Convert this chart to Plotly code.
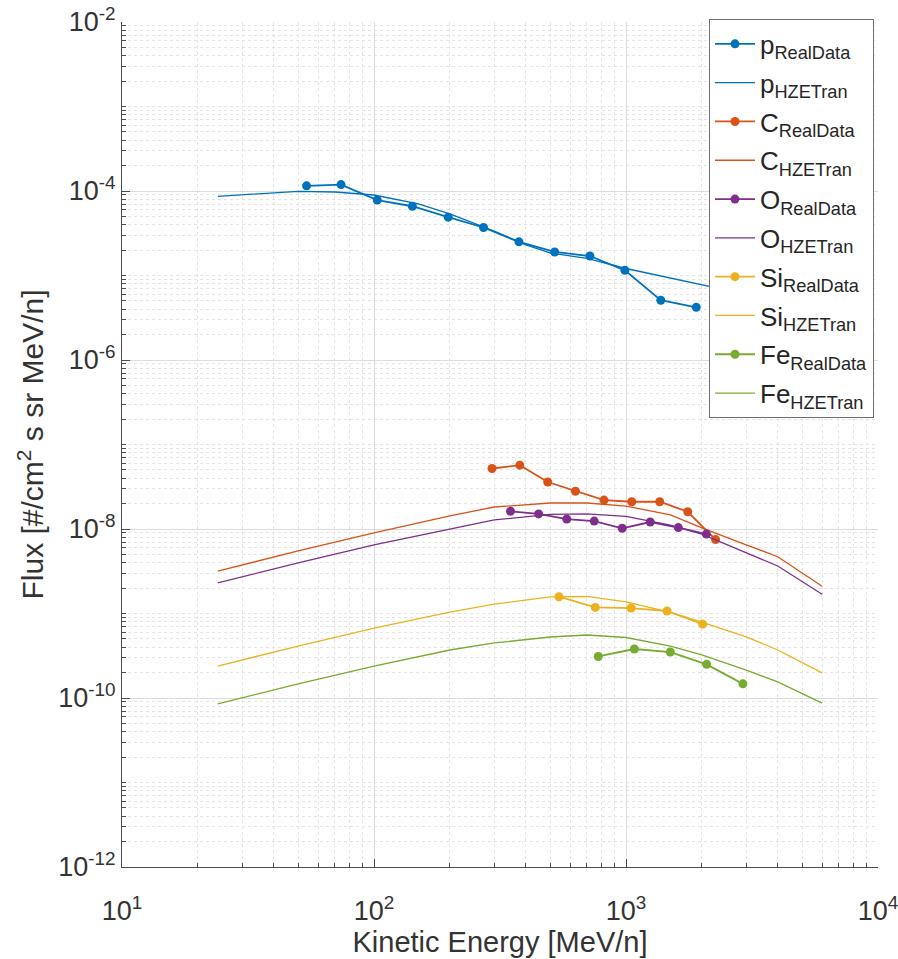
import plotly.graph_objects as go

# ---------------- data ----------------
p_real_E = [54, 74, 103, 142, 197, 272, 376, 521, 719, 990, 1374, 1900]
p_real_F = [1.15e-4, 1.19e-4, 7.8e-5, 6.6e-5, 4.9e-5, 3.7e-5, 2.5e-5, 1.9e-5, 1.7e-5, 1.15e-5, 5.1e-6, 4.2e-6]

C_real_E = [294, 379, 489, 630, 818, 1054, 1361, 1758, 2268]
C_real_F = [5.2e-8, 5.7e-8, 3.6e-8, 2.8e-8, 2.2e-8, 2.1e-8, 2.1e-8, 1.6e-8, 7.5e-9]

O_real_E = [348, 450, 582, 748, 966, 1248, 1613, 2083]
O_real_F = [1.62e-8, 1.51e-8, 1.31e-8, 1.24e-8, 1.02e-8, 1.21e-8, 1.04e-8, 8.7e-9]

Si_real_E = [542, 755, 1048, 1455, 2014]
Si_real_F = [1.58e-9, 1.18e-9, 1.16e-9, 1.07e-9, 7.5e-10]

Fe_real_E = [776, 1079, 1499, 2089, 2910]
Fe_real_F = [3.1e-10, 3.8e-10, 3.5e-10, 2.5e-10, 1.47e-10]

p_model_E = [24, 50, 70, 100, 150, 200, 300, 400, 500, 700, 1000, 1500, 2000, 3000, 4000, 6000]
p_model_F = [8.65e-5, 9.9e-5, 9.73e-5, 8.97e-5, 7.02e-5, 5.35e-5, 3.36e-5, 2.3e-5, 1.85e-5, 1.59e-5,
             1.21e-5, 9.3e-6, 7.8e-6, 6.0e-6, 5.0e-6, 3.85e-6]

model_E = [24, 50, 100, 200, 300, 500, 700, 1000, 1500, 2000, 3000, 4000, 6000]
C_model_F = [3.18e-9, 5.5e-9, 8.97e-9, 1.43e-8, 1.82e-8, 2.03e-8, 2.03e-8, 1.87e-8, 1.47e-8, 1.03e-8, 6.5e-9, 4.7e-9, 2.1e-9]
O_model_F = [2.3e-9, 3.96e-9, 6.47e-9, 1.0e-8, 1.28e-8, 1.49e-8, 1.51e-8, 1.41e-8, 1.11e-8, 8.7e-9, 5.2e-9, 3.65e-9, 1.69e-9]
Si_model_F = [2.39e-10, 4.12e-10, 6.73e-10, 1.04e-9, 1.29e-9, 1.57e-9, 1.59e-9, 1.37e-9, 1.03e-9, 7.9e-10, 5.3e-10, 3.7e-10, 1.98e-10]
Fe_model_F = [8.5e-11, 1.47e-10, 2.39e-10, 3.7e-10, 4.48e-10, 5.27e-10, 5.57e-10, 5.2e-10, 4.12e-10, 3.23e-10, 2.14e-10, 1.55e-10, 8.7e-11]

species = ["p", "C", "O", "Si", "Fe"]
colors = ["#0072BD", "#D95319", "#7E2F8E", "#EDB120", "#77AC30"]
real_E = [p_real_E, C_real_E, O_real_E, Si_real_E, Fe_real_E]
real_F = [p_real_F, C_real_F, O_real_F, Si_real_F, Fe_real_F]
mod_E = [p_model_E, model_E, model_E, model_E, model_E]
mod_F = [p_model_F, C_model_F, O_model_F, Si_model_F, Fe_model_F]

x_ticks = [10, 100, 1000, 10000]
x_ticktext = ["10<sup>1</sup>", "10<sup>2</sup>", "10<sup>3</sup>", "10<sup>4</sup>"]
y_ticks = [1e-12, 1e-10, 1e-8, 1e-6, 1e-4, 1e-2]
y_ticktext = ["10<sup>-12</sup>", "10<sup>-10</sup>", "10<sup>-8</sup>", "10<sup>-6</sup>", "10<sup>-4</sup>", "10<sup>-2</sup>"]

# ---------------- figure ----------------
fig = go.Figure()
for s, c, rE, rF, mE, mF in zip(species, colors, real_E, real_F, mod_E, mod_F):
    fig.add_trace(go.Scatter(x=rE, y=rF, mode="lines+markers",
                             name=f"{s}<sub>RealData</sub>", legendgroup=f"{s}r",
                             line=dict(color=c, width=1.8),
                             marker=dict(color=c, size=9)))
    fig.add_trace(go.Scatter(x=mE, y=mF, mode="lines",
                             name=f"{s}<sub>HZETran</sub>", legendgroup=f"{s}m",
                             line=dict(color=c, width=1.3)))

minor_x = [m * 10 ** k for k in range(1, 4) for m in range(2, 10)]
minor_y = [m * 10.0 ** k for k in range(-12, -2) for m in range(1, 10) if not (m == 1 and k % 2 == 0)]

axis_col = "#4d4d4d"
font_fam = "Liberation Sans, Arial, sans-serif"

fig.update_layout(
    width=898, height=959,
    margin=dict(l=122, r=20, t=22, b=92),
    paper_bgcolor="white", plot_bgcolor="white",
    font=dict(family=font_fam, color="#333333"),
    showlegend=True,
    legend=dict(x=0.9947, xanchor="right", y=1.003, yanchor="top",
                bgcolor="white", bordercolor="#707070", borderwidth=1,
                font=dict(size=26, family=font_fam, color="#262626"),
                itemwidth=40, tracegroupgap=2),
    xaxis=dict(type="log", range=[1, 4], automargin=False,
               tickvals=x_ticks, ticktext=x_ticktext, ticklabeloverflow="allow",
               ticklabelstandoff=20,
               tickfont=dict(size=27, color="#333333"),
               ticks="inside", ticklen=8, tickcolor=axis_col,
               showline=True, linecolor=axis_col, linewidth=1, mirror=False,
               showgrid=True, gridcolor="#dcdcdc", gridwidth=1,
               zeroline=False,
               minor=dict(tickvals=minor_x, ticks="inside", ticklen=4, tickcolor=axis_col,
                          showgrid=True, gridcolor="#e4e4e4", griddash="dot", gridwidth=1),
               title=dict(text="Kinetic Energy [MeV/n]", font=dict(size=29, color="#333333"), standoff=0)),
    yaxis=dict(type="log", range=[-12, -2], automargin=False,
               tickvals=y_ticks, ticktext=y_ticktext, ticklabeloverflow="allow",
               tickfont=dict(size=27, color="#333333"),
               ticks="inside", ticklen=8, tickcolor=axis_col,
               showline=True, linecolor=axis_col, linewidth=1, mirror=False,
               showgrid=True, gridcolor="#dcdcdc", gridwidth=1,
               zeroline=False,
               minor=dict(tickvals=minor_y, ticks="inside", ticklen=4, tickcolor=axis_col,
                          showgrid=True, gridcolor="#e4e4e4", griddash="dot", gridwidth=1),
               title=dict(text="Flux [#/cm<sup>2</sup> s sr MeV/n]", font=dict(size=30, color="#333333"), standoff=5)),
)

fig.write_html("out.html",
               config={"displayModeBar": False},
               post_script="document.body.style.margin='0';document.body.style.overflow='hidden';")
